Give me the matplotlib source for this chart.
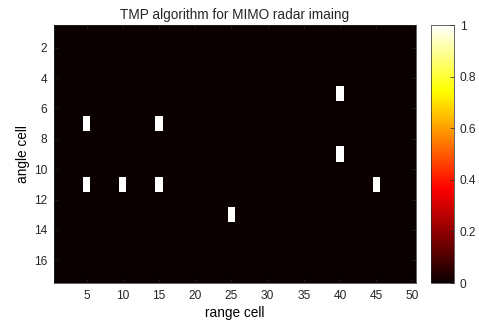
import numpy as np
import matplotlib
matplotlib.use("Agg")
import matplotlib.pyplot as plt

plt.rcParams['font.family'] = ['Liberation Sans', 'DejaVu Sans']
plt.rcParams['text.color'] = '#262626'
plt.rcParams['xtick.color'] = '#262626'
plt.rcParams['ytick.color'] = '#262626'

n_angle = 17
n_range = 50
target_range = [5, 5, 10, 15, 15, 25, 40, 40, 45]
target_angle = [7, 11, 11, 7, 11, 13, 5, 9, 11]
target_amp = [1, 1, 1, 1, 1, 1, 1, 1, 1]

img = np.zeros((n_angle, n_range))
for r, a, v in zip(target_range, target_angle, target_amp):
    img[a - 1, r - 1] = v

fig = plt.figure(figsize=(4.79, 3.25), dpi=100)
ax = fig.add_axes([54/479, 1 - 283/325, (416-54)/479, (283-25)/325])
im = ax.imshow(img, cmap='hot', vmin=0, vmax=1, aspect='auto',
               extent=[0.5, n_range + 0.5, n_angle + 0.5, 0.5], interpolation='nearest')
ax.set_xticks([5, 10, 15, 20, 25, 30, 35, 40, 45, 50])
ax.set_yticks([2, 4, 6, 8, 10, 12, 14, 16])
ax.tick_params(direction='in', top=True, right=True, labelsize=8.6, length=3, width=0.5, color='#262626', pad=5)
for s in ax.spines.values():
    s.set_linewidth(0.5)
    s.set_color('#262626')
ax.set_xlabel('range cell', fontsize=9.8, labelpad=3)
ax.set_ylabel('angle cell', fontsize=9.8, labelpad=3)
ax.set_title('TMP algorithm for MIMO radar imaing', fontsize=9.8, pad=4)

cax = fig.add_axes([431/479, 1 - 283/325, (454-431)/479, (283-25)/325])
cb = fig.colorbar(im, cax=cax, ticks=[0, 0.2, 0.4, 0.6, 0.8, 1])
cb.ax.set_yticklabels(['0', '0.2', '0.4', '0.6', '0.8', '1'])
cb.ax.tick_params(direction='in', labelsize=8.6, length=3, width=0.5, color='#262626', pad=4)
cb.outline.set_linewidth(0.5)
cb.outline.set_edgecolor('#262626')

fig.savefig('out.png', dpi=100)
